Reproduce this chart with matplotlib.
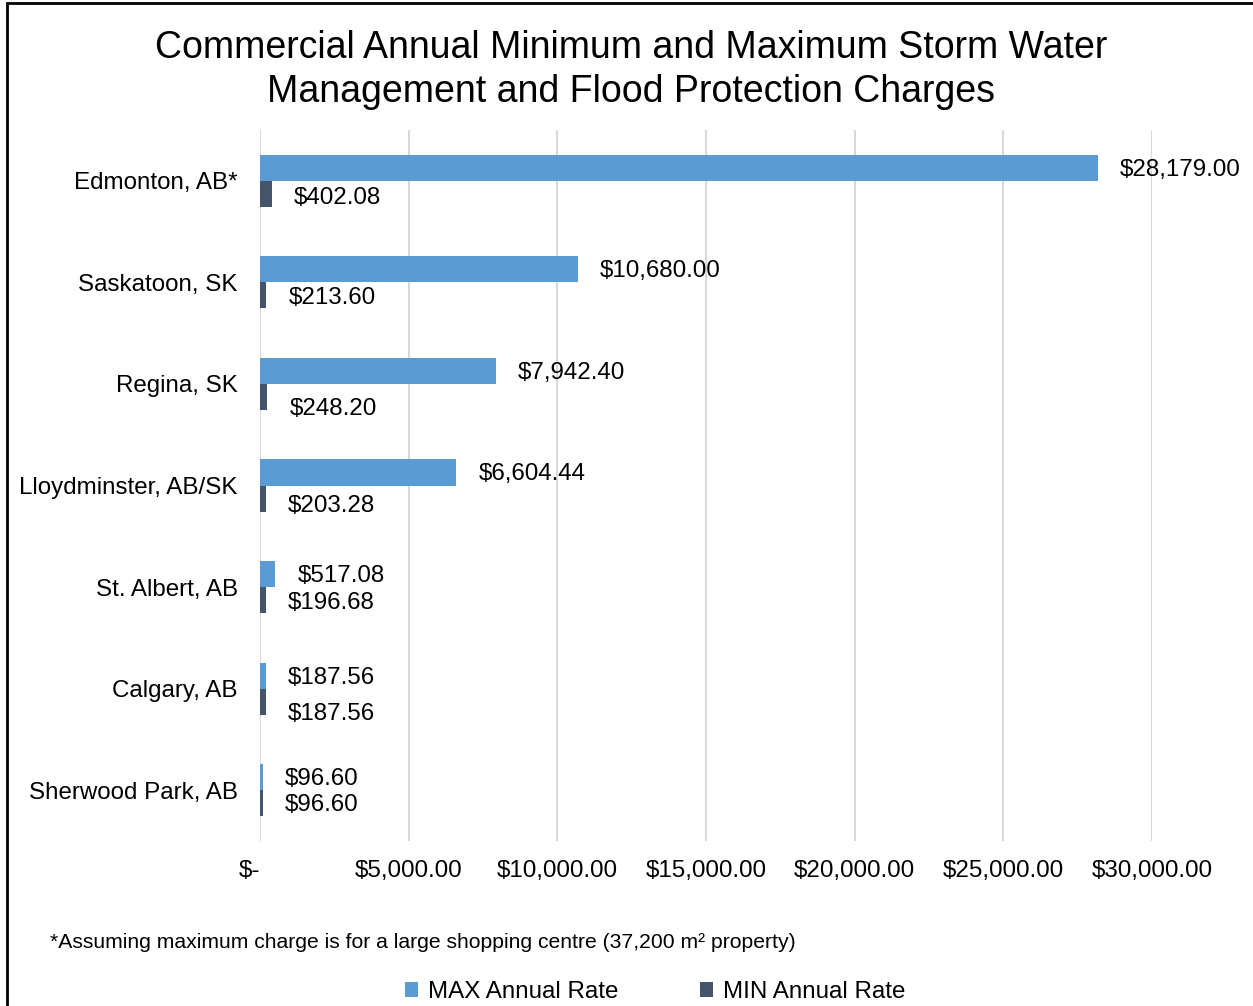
import matplotlib
matplotlib.use('Agg')
import matplotlib.pyplot as plt
from matplotlib.patches import Rectangle

plt.rcParams['font.family'] = ['Liberation Sans', 'DejaVu Sans']

# data
cities = ['Edmonton, AB*', 'Saskatoon, SK', 'Regina, SK', 'Lloydminster, AB/SK',
          'St. Albert, AB', 'Calgary, AB', 'Sherwood Park, AB']
max_rate = [28179.00, 10680.00, 7942.40, 6604.44, 517.08, 187.56, 96.60]
min_rate = [402.08, 213.60, 248.20, 203.28, 196.68, 187.56, 96.60]
x_ticks = [0, 5000, 10000, 15000, 20000, 25000, 30000]
x_tick_labels = ['$-', '$5,000.00', '$10,000.00', '$15,000.00',
                 '$20,000.00', '$25,000.00', '$30,000.00']

# vertical nudges of the MIN labels (pixels), like excel placed them
min_label_dy = [2, 1, 10, 5, 1, 10, 0]

max_col = '#5B9BD5'
min_col = '#44546A'
fs = 17.4

W, H = 1253, 1006
fig = plt.figure(figsize=(W / 100, H / 100), dpi=100)
ax = fig.add_axes([260 / W, 1 - 841 / H, (1152 - 260) / W, (841 - 130) / H])

pos = list(range(len(cities)))
bh = 0.256
b1 = ax.barh([p - bh / 2 for p in pos], max_rate, height=bh, color=max_col,
             label='MAX Annual Rate', zorder=3)
b2 = ax.barh([p + bh / 2 for p in pos], min_rate, height=bh, color=min_col,
             label='MIN Annual Rate', zorder=3)

for i in pos:
    ax.annotate('${:,.2f}'.format(max_rate[i]), (max_rate[i], i - bh / 2),
                xytext=(22, -2), textcoords='offset pixels',
                ha='left', va='center', fontsize=fs)
    ax.annotate('${:,.2f}'.format(min_rate[i]), (min_rate[i], i + bh / 2),
                xytext=(22, -2 - min_label_dy[i]), textcoords='offset pixels',
                ha='left', va='center', fontsize=fs)

ax.set_xlim(0, 30000)
ax.set_ylim(len(cities) - 0.5, -0.5)
ax.set_yticks(pos)
ax.set_yticklabels(cities, fontsize=fs)
ax.set_xticks(x_ticks)
ax.set_xticklabels(x_tick_labels, fontsize=fs)
ax.get_xticklabels()[0].set_horizontalalignment('right')
ax.get_xticklabels()[0].set_x(0)
ax.tick_params(axis='both', length=0)
ax.tick_params(axis='y', pad=16)
ax.tick_params(axis='x', pad=14)
ax.grid(axis='x', color='#D9D9D9', linewidth=1.5, zorder=0)
for s in ax.spines.values():
    s.set_visible(False)

fig.text(631 / W, 1 - 70 / H,
         'Commercial Annual Minimum and Maximum Storm Water\nManagement and Flood Protection Charges',
         ha='center', va='center', fontsize=27, linespacing=1.27)

fig.text(50 / W, 1 - 943 / H,
         '*Assuming maximum charge is for a large shopping centre (37,200 m\u00b2 property)',
         ha='left', va='center', fontsize=15.2)

fig.legend(handles=[b1, b2], loc='center', bbox_to_anchor=(655 / W, 1 - 992 / H),
           ncol=2, frameon=False, fontsize=fs, handlelength=0.55, handleheight=0.55,
           handletextpad=0.4, columnspacing=3.4)

# chart border (only left / top visible in the crop)
fig.patches.append(Rectangle((7 / W, -0.1), 2, 1 - 3.5 / H + 0.1,
                             transform=fig.transFigure, fill=False,
                             edgecolor='black', linewidth=2))

fig.savefig('out.png', dpi=100)
